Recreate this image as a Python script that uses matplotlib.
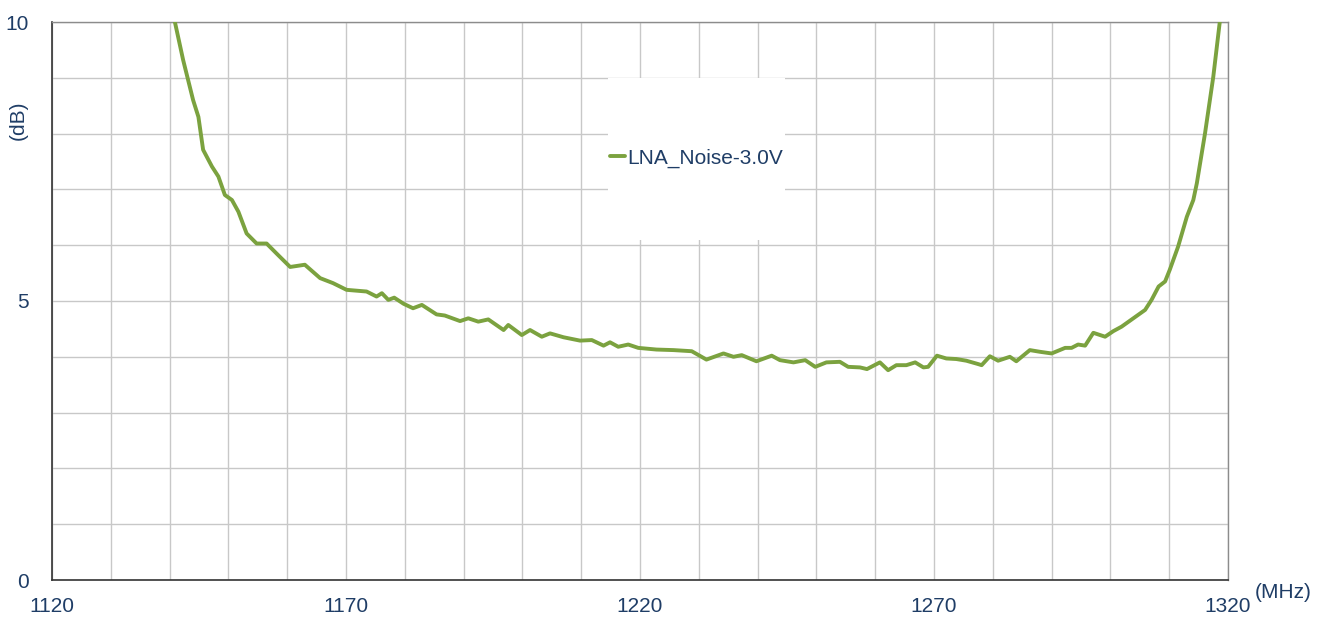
import matplotlib.pyplot as plt
import matplotlib.patches as patches
import numpy as np

plt.rcParams['font.family'] = ['Liberation Sans', 'DejaVu Sans']

freq = [1140.0, 1140.9, 1142.3, 1144.0, 1144.9, 1145.7, 1147.2, 1148.3, 1149.4, 1150.6,
        1151.7, 1153.1, 1154.8, 1156.5, 1158.2, 1160.5, 1163.0, 1165.6, 1167.8, 1170.1,
        1173.5, 1175.2, 1176.1, 1177.2, 1178.2, 1179.8, 1181.4, 1182.9, 1185.4, 1186.8,
        1189.4, 1190.8, 1192.5, 1194.2, 1196.8, 1197.6, 1199.9, 1201.3, 1203.3, 1204.7,
        1207.0, 1209.8, 1211.8, 1213.8, 1214.9, 1216.3, 1218.0, 1219.7, 1222.8, 1225.7,
        1228.8, 1231.3, 1234.2, 1235.9, 1237.3, 1239.8, 1242.4, 1243.8, 1246.1, 1248.1,
        1249.8, 1251.7, 1254.0, 1255.4, 1257.4, 1258.6, 1260.8, 1262.2, 1263.6, 1265.3,
        1266.8, 1268.2, 1269.0, 1270.5, 1272.1, 1273.8, 1275.5, 1277.5, 1278.1, 1279.5,
        1280.9, 1282.9, 1284.0, 1286.3, 1288.0, 1290.0, 1292.3, 1293.4, 1294.5, 1295.7,
        1297.1, 1299.1, 1300.5, 1301.9, 1303.9, 1305.9, 1307.0, 1308.2, 1309.3, 1310.1,
        1311.5, 1313.0, 1314.1, 1314.7, 1316.1, 1317.5, 1318.6, 1319.0]
noise_db = [10.3, 10.0, 9.32, 8.60, 8.30, 7.71, 7.41, 7.23, 6.90, 6.81,
            6.60, 6.21, 6.03, 6.03, 5.85, 5.61, 5.65, 5.41, 5.32, 5.20,
            5.17, 5.08, 5.14, 5.02, 5.06, 4.95, 4.87, 4.93, 4.76, 4.74,
            4.64, 4.69, 4.63, 4.67, 4.48, 4.57, 4.39, 4.48, 4.36, 4.42,
            4.35, 4.29, 4.30, 4.20, 4.26, 4.18, 4.22, 4.16, 4.13, 4.12,
            4.10, 3.95, 4.06, 4.00, 4.03, 3.92, 4.02, 3.94, 3.90, 3.94,
            3.82, 3.90, 3.91, 3.82, 3.81, 3.78, 3.90, 3.76, 3.85, 3.85,
            3.90, 3.81, 3.82, 4.02, 3.97, 3.96, 3.93, 3.87, 3.85, 4.01,
            3.93, 4.00, 3.92, 4.12, 4.09, 4.06, 4.16, 4.16, 4.22, 4.20,
            4.43, 4.36, 4.46, 4.54, 4.69, 4.84, 5.02, 5.26, 5.35, 5.56,
            5.97, 6.51, 6.81, 7.11, 8.01, 9.02, 10.0, 10.4]

x_ticks = np.arange(1120, 1321, 10)
y_ticks = np.arange(0, 11, 1)

text_color = '#1F3D66'

fig = plt.figure(figsize=(13.27, 6.17), dpi=100)
ax = fig.add_axes([52 / 1327, 1 - 580 / 617, 1176 / 1327, 558 / 617])

ax.plot(freq, noise_db, color='#7BA23F', linewidth=2.8, label='LNA_Noise-3.0V',
        solid_joinstyle='round', solid_capstyle='round', zorder=3)

ax.set_xlim(1120, 1320)
ax.set_ylim(0, 10)
ax.set_xticks(x_ticks)
ax.set_xticklabels([str(v) if (v - 1120) % 50 == 0 else '' for v in x_ticks])
ax.set_yticks(y_ticks)
ax.set_yticklabels([str(v) if v % 5 == 0 else '' for v in y_ticks])
ax.tick_params(length=0, labelsize=15, labelcolor=text_color)
ax.tick_params(axis='x', pad=12)
ax.tick_params(axis='y', pad=17)

ax.grid(color='#C8C8C8', linewidth=1.0, zorder=0)
ax.set_axisbelow(True)

for side in ['left', 'bottom']:
    ax.spines[side].set_color('#333333')
    ax.spines[side].set_linewidth(1.2)
for side in ['top', 'right']:
    ax.spines[side].set_color('#8C8C8C')
    ax.spines[side].set_linewidth(1.0)

# white area behind the legend
ax.add_patch(patches.Rectangle((0.473, 0.609), 0.15, 0.291, transform=ax.transAxes,
                               facecolor='white', edgecolor='none', zorder=1))
ax.legend(loc='center', bbox_to_anchor=(0.548, 0.756), frameon=False, fontsize=15,
          handlelength=0.7, handletextpad=0.1, labelcolor=text_color)

fig.text(18 / 1327, 1 - 120 / 617, '(dB)', rotation=90, ha='center', va='center',
         fontsize=15, color=text_color)
fig.text(1283 / 1327, 1 - 592 / 617, '(MHz)', ha='center', va='center',
         fontsize=15, color=text_color)

plt.savefig('out.png', dpi=100)
